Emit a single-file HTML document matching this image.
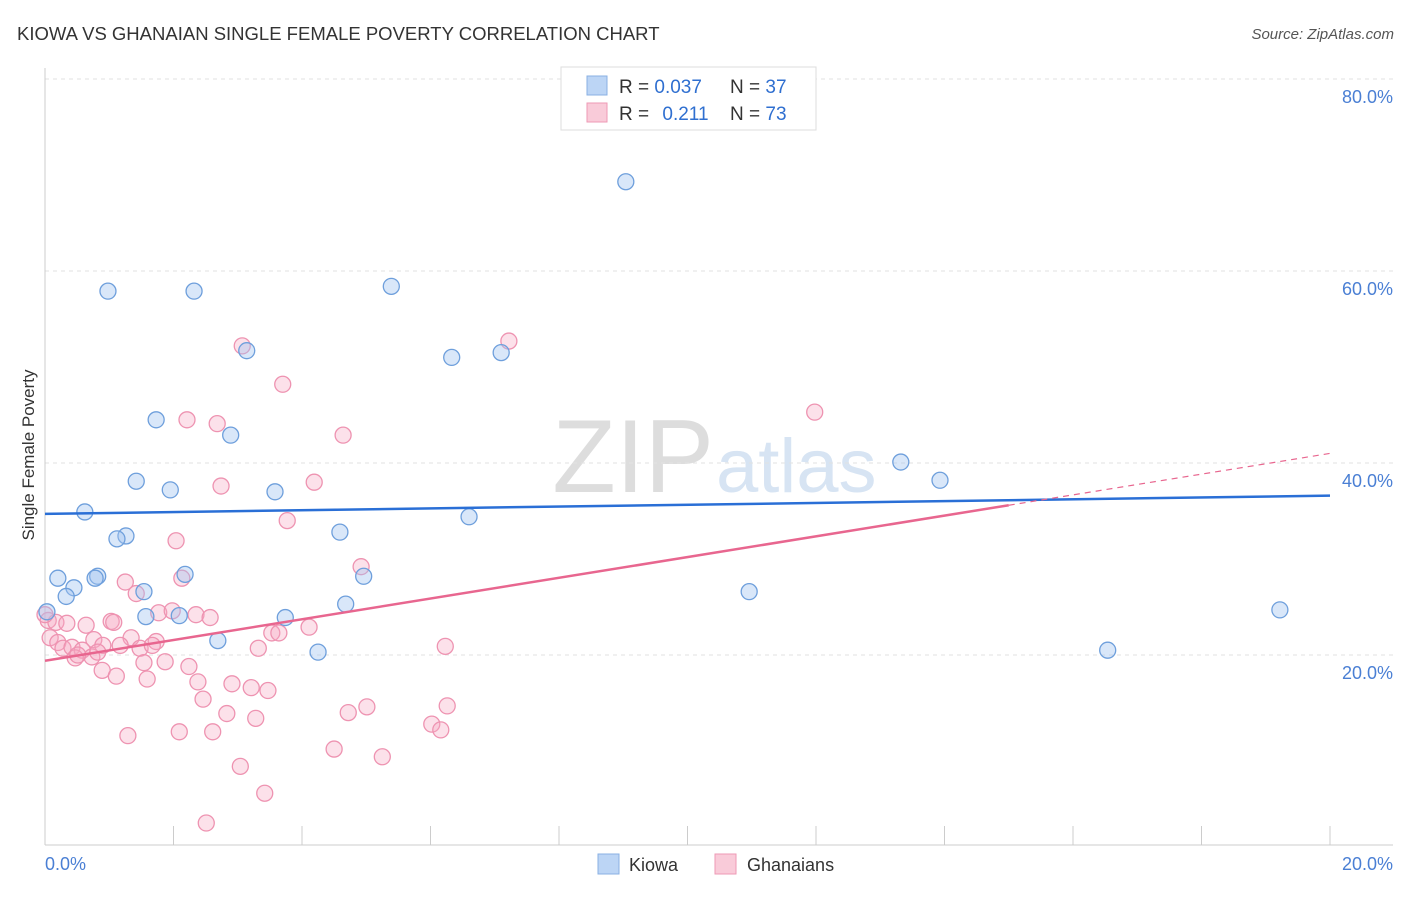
<!DOCTYPE html>
<html><head><meta charset="utf-8"><style>
body{margin:0;background:#fff;font-family:"Liberation Sans",sans-serif;}
svg text{font-family:"Liberation Sans",sans-serif;}
</style></head><body>
<svg id="c" width="1406" height="892" xmlns="http://www.w3.org/2000/svg">
<text x="17" y="40" font-size="18.5" fill="#333">KIOWA VS GHANAIAN SINGLE FEMALE POVERTY CORRELATION CHART</text>
<text x="1394" y="39" font-size="15" fill="#555" text-anchor="end" font-style="italic">Source: ZipAtlas.com</text>
<text x="714" y="492" font-size="104" fill="#ddd" text-anchor="end" font-family="Liberation Serif">ZIP</text>
<text x="716" y="492" font-size="76" fill="#d7e4f3">atlas</text>
<g id="grid"></g>
<line x1="45" y1="68" x2="45" y2="845" stroke="#ccc"/>
<line x1="45" y1="845" x2="1393" y2="845" stroke="#ccc"/>
<text x="34" y="455" font-size="17" fill="#333" text-anchor="middle" transform="rotate(-90 34 455)">Single Female Poverty</text>
<text x="45" y="870" font-size="18" fill="#4a7fd4">0.0%</text>
<text x="1393" y="870" font-size="18" fill="#4a7fd4" text-anchor="end">20.0%</text>
<g id="pts"></g>
<g id="lines"></g>
<g>
<rect x="561" y="67" width="255" height="63" fill="#fff" stroke="#ddd"/>
<rect x="587" y="76" width="20" height="19" fill="#bcd5f5" stroke="#8ab0e3"/>
<rect x="587" y="103" width="20" height="19" fill="#f9cbd9" stroke="#ee9ab5"/>
<text x="619" y="93" font-size="19" fill="#333">R = <tspan fill="#2f6fd0">0.037</tspan></text>
<text x="730" y="93" font-size="19" fill="#333">N = <tspan fill="#2f6fd0">37</tspan></text>
<text x="619" y="120" font-size="19" fill="#333">R = <tspan fill="#2f6fd0" dx="8">0.211</tspan></text>
<text x="730" y="120" font-size="19" fill="#333">N = <tspan fill="#2f6fd0">73</tspan></text>
</g>
<g>
<rect x="598" y="854" width="21" height="20" fill="#bcd5f5" stroke="#8ab0e3"/>
<text x="629" y="871" font-size="18" fill="#333">Kiowa</text>
<rect x="715" y="854" width="21" height="20" fill="#f9cbd9" stroke="#ee9ab5"/>
<text x="747" y="871" font-size="18" fill="#333">Ghanaians</text>
</g>
</svg>
<script>
const yTicks=[20,40,60,80];
const xTicks=[0,2,4,6,8,10,12,14,16,18,20];
const kiowaX=[9.04,0.98,2.32,5.39,3.14,6.33,7.10,1.73,2.89,1.42,1.95,3.58,0.62,6.60,13.32,13.93,4.59,1.26,1.12,0.20,0.45,0.33,0.82,0.78,2.18,1.54,4.96,10.96,4.68,1.57,2.09,3.74,2.69,4.25,16.54,19.22,0.03];
const kiowaY=[69.3,57.9,57.9,58.4,51.7,51.0,51.5,44.5,42.9,38.1,37.2,37.0,34.9,34.4,40.1,38.2,32.8,32.4,32.1,28.0,27.0,26.1,28.2,28.0,28.4,26.6,28.2,26.6,25.3,24.0,24.1,23.9,21.5,20.3,20.5,24.7,24.5];
const ghanaX=[7.22,3.07,3.70,11.98,2.21,2.68,4.64,4.19,2.74,3.77,2.04,4.92,1.25,2.13,1.42,1.77,1.98,2.35,2.57,0.05,0.17,0.34,0.64,1.03,1.07,4.11,3.53,3.64,0.76,1.34,1.73,0.08,0.20,0.28,0.42,0.58,0.90,1.17,1.48,1.67,3.32,6.23,0.47,0.73,0.82,0.51,1.54,1.87,2.24,0.89,1.11,1.59,2.38,2.91,3.21,3.47,2.46,2.83,3.28,4.72,5.01,6.26,6.02,6.16,2.09,2.61,1.29,4.50,5.25,3.04,3.42,2.51,0];
const ghanaY=[52.7,52.2,48.2,45.3,44.5,44.1,42.9,38.0,37.6,34.0,31.9,29.2,27.6,28.0,26.4,24.4,24.6,24.2,23.9,23.6,23.4,23.3,23.1,23.5,23.4,22.9,22.3,22.3,21.6,21.8,21.4,21.8,21.3,20.7,20.8,20.5,21.0,21.0,20.7,21.0,20.7,20.9,19.7,19.8,20.3,20.0,19.2,19.3,18.8,18.4,17.8,17.5,17.2,17.0,16.6,16.3,15.4,13.9,13.4,14.0,14.6,14.7,12.8,12.2,12.0,12.0,11.6,10.2,9.4,8.4,5.6,2.5,24.2];
const kiowaTrend=[34.7,36.6];
const ghanaTrend=[19.4,41.0];
const ghanaSolidEnd=15.0;
const NS='http://www.w3.org/2000/svg';
const xs=v=>45+v*64.25, ys=v=>847-v*9.6;
function mk(t,a,p){const e=document.createElementNS(NS,t);for(const k in a)e.setAttribute(k,a[k]);p.appendChild(e);return e;}
const grid=document.getElementById('grid');
yTicks.forEach(t=>{
 const l=mk('line',{x1:45,x2:1393,y1:ys(t),y2:ys(t),stroke:'#e2e2e2','stroke-dasharray':'4,4'},grid);
 
 
 const tx=mk('text',{x:1393,y:ys(t)+24,'font-size':18,fill:'#4a7fd4','text-anchor':'end'},grid);
 tx.textContent=t.toFixed(1)+'%';
 
 
});
xTicks.forEach(t=>{
 const l=mk('line',{x1:xs(t),x2:xs(t),y1:826,y2:845,stroke:'#ccc'},grid);
 
 
});
const pts=document.getElementById('pts');
ghanaX.forEach((x,i)=>{
 const c=mk('circle',{cx:xs(x),cy:ys(ghanaY[i]),r:8,fill:'rgba(246,170,195,0.35)',stroke:'#ee93b1','stroke-width':1.3},pts);
 
 
});
kiowaX.forEach((x,i)=>{
 const c=mk('circle',{cx:xs(x),cy:ys(kiowaY[i]),r:8,fill:'rgba(160,195,240,0.4)',stroke:'#6e9fdc','stroke-width':1.3},pts);
 
 
});
const lines=document.getElementById('lines');
const gAt=x=>ghanaTrend[0]+(ghanaTrend[1]-ghanaTrend[0])*x/20;
let l1=mk('line',{x1:xs(0),y1:ys(kiowaTrend[0]),x2:xs(20),y2:ys(kiowaTrend[1]),stroke:'#2a6fd6','stroke-width':2.5},lines);


let l2=mk('line',{x1:xs(0),y1:ys(gAt(0)),x2:xs(ghanaSolidEnd),y2:ys(gAt(ghanaSolidEnd)),stroke:'#e8668f','stroke-width':2.5},lines);


let l3=mk('line',{x1:xs(ghanaSolidEnd),y1:ys(gAt(ghanaSolidEnd)),x2:xs(20),y2:ys(gAt(20)),stroke:'#e8668f','stroke-width':1.2,'stroke-dasharray':'6,5'},lines);


</script>
</body></html>
